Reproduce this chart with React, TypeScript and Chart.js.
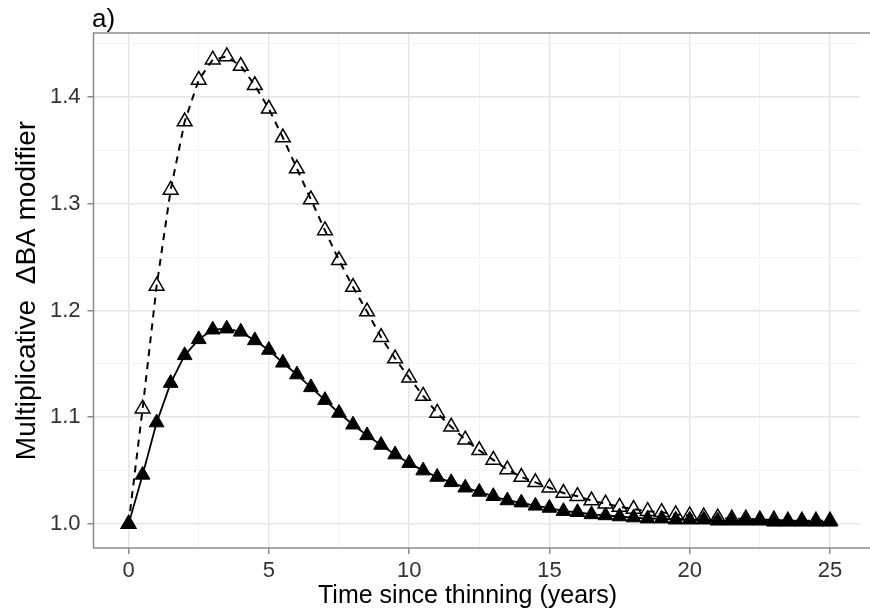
import React, { useEffect, useRef } from 'react';
import { Chart, registerables } from 'chart.js';

Chart.register(...registerables);

// Time since thinning (years)
const years = [
  0, 0.5, 1, 1.5, 2, 2.5, 3, 3.5, 4, 4.5, 5, 5.5, 6, 6.5, 7, 7.5, 8, 8.5, 9, 9.5,
  10, 10.5, 11, 11.5, 12, 12.5, 13, 13.5, 14, 14.5, 15, 15.5, 16, 16.5, 17, 17.5,
  18, 18.5, 19, 19.5, 20, 20.5, 21, 21.5, 22, 22.5, 23, 23.5, 24, 24.5, 25,
];

// Open triangles, dashed line
const modifierOpen = [
  1.000, 1.108, 1.223, 1.313, 1.377, 1.416, 1.435, 1.438, 1.429, 1.411, 1.389,
  1.362, 1.333, 1.304, 1.275, 1.247, 1.222, 1.199, 1.175, 1.155, 1.137, 1.120,
  1.104, 1.091, 1.079, 1.069, 1.060, 1.051, 1.044, 1.039, 1.034, 1.029, 1.026,
  1.022, 1.019, 1.016, 1.014, 1.012, 1.011, 1.009, 1.008, 1.007, 1.006, 1.005,
  1.005, 1.004, 1.004, 1.003, 1.003, 1.003, 1.003,
];

// Filled triangles, solid line
const modifierFilled = [
  1.000, 1.046, 1.095, 1.132, 1.158, 1.173, 1.182, 1.183, 1.180, 1.172, 1.163,
  1.151, 1.140, 1.128, 1.116, 1.104, 1.093, 1.083, 1.074, 1.065, 1.057, 1.050,
  1.044, 1.039, 1.034, 1.030, 1.026, 1.022, 1.020, 1.017, 1.015, 1.012, 1.011,
  1.009, 1.008, 1.007, 1.006, 1.005, 1.005, 1.004, 1.004, 1.004, 1.003, 1.003,
  1.003, 1.003, 1.002, 1.002, 1.002, 1.002, 1.002,
];

const xMajorTicks = [0, 5, 10, 15, 20, 25];
const xMinorTicks = [2.5, 7.5, 12.5, 17.5, 22.5];
const yMajorTicks = [1.0, 1.1, 1.2, 1.3, 1.4];
const yMinorTicks = [1.05, 1.15, 1.25, 1.35, 1.45];

const panelLabel = 'a)';
const xTitle = 'Time since thinning (years)';
const yTitle = 'Multiplicative  \u0394BA modifier';

const FONT = '"Liberation Sans", Arial, sans-serif';

const isIn = (arr: number[], v: number) => arr.some((a) => Math.abs(a - v) < 1e-6);

const decorPlugin = {
  id: 'decor',
  afterDraw(chart: any) {
    const { ctx, chartArea } = chart;
    const { left, top, right, bottom } = chartArea;
    ctx.save();
    ctx.strokeStyle = '#8a8a8a';
    ctx.lineWidth = 1.5;
    ctx.beginPath();
    ctx.moveTo(right + 10, top);
    ctx.lineTo(left, top);
    ctx.lineTo(left, bottom);
    ctx.lineTo(right + 10, bottom);
    ctx.stroke();

    ctx.fillStyle = '#000';
    ctx.textBaseline = 'alphabetic';
    ctx.textAlign = 'left';
    ctx.font = `26px ${FONT}`;
    ctx.fillText(panelLabel, 92, 27);

    ctx.font = `25px ${FONT}`;
    ctx.fillText(xTitle, 318, 603);

    ctx.translate(35, (top + bottom) / 2);
    ctx.rotate(-Math.PI / 2);
    ctx.textAlign = 'center';
    ctx.font = `28px ${FONT}`;
    ctx.fillText(yTitle, 0, 0);
    ctx.restore();
  },
};

export default function App() {
  const canvasRef = useRef<HTMLCanvasElement | null>(null);

  useEffect(() => {
    const canvas = canvasRef.current;
    if (!canvas) return;
    const chart = new Chart(canvas, {
      type: 'line',
      data: {
        datasets: [
          {
            label: 'filled',
            data: years.map((x, i) => ({ x, y: modifierFilled[i] })),
            borderColor: '#000',
            borderWidth: 1.8,
            pointStyle: 'triangle',
            pointRadius: 8.5,
            pointBackgroundColor: '#000',
            pointBorderColor: '#000',
            pointBorderWidth: 1,
            tension: 0,
          },
          {
            label: 'open',
            data: years.map((x, i) => ({ x, y: modifierOpen[i] })),
            borderColor: '#000',
            borderWidth: 2,
            borderDash: [7, 6],
            pointStyle: 'triangle',
            pointRadius: 8.5,
            pointBackgroundColor: 'rgba(255,255,255,0)',
            pointBorderColor: '#000',
            pointBorderWidth: 1.5,
            tension: 0,
          },
        ],
      },
      options: {
        animation: false,
        responsive: false,
        devicePixelRatio: 1,
        layout: { padding: { top: 33, left: 0, right: 0, bottom: 0 } },
        plugins: {
          legend: { display: false },
          tooltip: { enabled: false },
          title: { display: false },
        },
        scales: {
          x: {
            type: 'linear',
            min: -1.25,
            max: 26.07,
            afterBuildTicks: (s: any) => {
              s.ticks = [...xMajorTicks, ...xMinorTicks]
                .sort((a, b) => a - b)
                .map((v) => ({ value: v }));
            },
            afterFit: (s: any) => {
              s.height = 65;
            },
            ticks: {
              autoSkip: false,
              maxRotation: 0,
              padding: 4,
              color: '#333333',
              font: { family: FONT, size: 22 },
              callback: (v: any) => (isIn(xMajorTicks, Number(v)) ? String(v) : ''),
            },
            grid: {
              drawTicks: true,
              tickLength: 6,
              color: (c: any) => (isIn(xMajorTicks, c.tick?.value) ? '#e6e6e6' : '#f3f3f3'),
              lineWidth: (c: any) => (isIn(xMajorTicks, c.tick?.value) ? 1.5 : 1),
              tickColor: (c: any) =>
                isIn(xMajorTicks, c.tick?.value) ? '#8a8a8a' : 'rgba(0,0,0,0)',
              tickWidth: 1.5,
            },
            border: { display: false },
          },
          y: {
            type: 'linear',
            min: 0.9775,
            max: 1.46,
            afterBuildTicks: (s: any) => {
              s.ticks = [...yMajorTicks, ...yMinorTicks]
                .sort((a, b) => a - b)
                .map((v) => ({ value: v }));
            },
            afterFit: (s: any) => {
              s.width = 93.5;
            },
            ticks: {
              autoSkip: false,
              padding: 7,
              color: '#333333',
              font: { family: FONT, size: 22 },
              callback: (v: any) =>
                isIn(yMajorTicks, Number(v)) ? Number(v).toFixed(1) : '',
            },
            grid: {
              drawTicks: true,
              tickLength: 6,
              color: (c: any) => (isIn(yMajorTicks, c.tick?.value) ? '#e6e6e6' : '#f3f3f3'),
              lineWidth: (c: any) => (isIn(yMajorTicks, c.tick?.value) ? 1.5 : 1),
              tickColor: (c: any) =>
                isIn(yMajorTicks, c.tick?.value) ? '#8a8a8a' : 'rgba(0,0,0,0)',
              tickWidth: 1.5,
            },
            border: { display: false },
          },
        },
      },
      plugins: [decorPlugin],
    } as any);
    return () => chart.destroy();
  }, []);

  return (
    <div
      style={{
        position: 'absolute',
        left: 0,
        top: 0,
        width: 870,
        height: 613,
        background: '#fff',
      }}
    >
      <canvas ref={canvasRef} width={870} height={613} style={{ display: 'block' }} />
    </div>
  );
}
